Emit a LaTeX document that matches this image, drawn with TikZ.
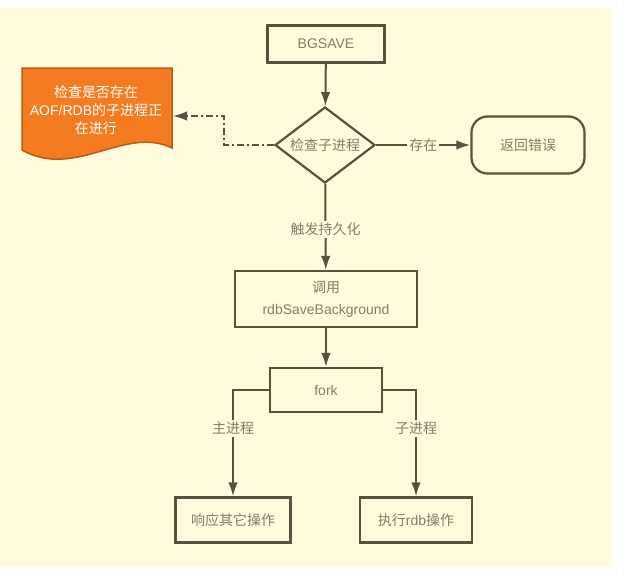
\documentclass[tikz,border=0pt]{standalone}
\usepackage{fontspec}
\setmainfont{Liberation Sans}
\newfontfamily\cjk{Noto Sans CJK SC}
\usetikzlibrary{shapes.geometric,arrows.meta}
\definecolor{bg}{HTML}{FFFCDD}
\definecolor{ln}{HTML}{5A5140}
\definecolor{tx}{HTML}{857C6C}
\definecolor{org}{HTML}{F57B20}
\definecolor{orgd}{HTML}{B85A18}
\tikzset{
  base/.style={text=tx, font=\fontsize{14}{17}\selectfont, inner sep=0pt, align=center},
  box/.style={base, draw=ln, line width=2.2pt, fill=bg},
  lbl/.style={base, fill=bg, inner sep=2pt},
  arr/.style={draw=ln, line width=2pt, -{Latex[length=14pt,width=9.5pt]}},
  dd/.style={draw=ln, line width=2pt, dash pattern=on 7pt off 3pt on 2pt off 3pt, -{Latex[length=14pt,width=9.5pt]}},
}
\begin{document}
\begin{tikzpicture}[x=1pt,y=-1pt]
\useasboundingbox (0,0) rectangle (625,579);
\fill[white] (0,0) rectangle (625,579);
\fill[bg] (0,8) rectangle (612,567);

\node[box, minimum width=117pt, minimum height=37pt] (bg) at (326,44) {BGSAVE};
\node[box, shape=diamond, aspect=1.3, minimum width=100pt, minimum height=76pt] (chk) at (325,145) {\cjk 检查子进程};
\node[box, rounded corners=16pt, minimum width=113pt, minimum height=57pt] (err) at (528,145) {\cjk 返回错误};
\node[box, minimum width=182pt, minimum height=56pt] (rdb) at (326,299) {{\cjk 调用}\\[5pt]rdbSaveBackground};
\node[box, minimum width=112pt, minimum height=44pt] (fork) at (326,390) {fork};
\node[box, minimum width=115pt, minimum height=45pt] (resp) at (233,520) {\cjk 响应其它操作};
\node[box, minimum width=112pt, minimum height=45pt] (exec) at (416,520) {{\cjk 执行}rdb{\cjk 操作}};

% document shape
\draw[draw=orgd, fill=org, line width=1.5pt] (22,68) -- (172,68) -- (172,148)
  .. controls (125,125) and (75,180) .. (22,150) -- cycle;
\node[base, text=white, font=\fontsize{14}{18}\selectfont] (doc) at (96,110)
  {{\cjk 检查是否存在}\\AOF/RDB{\cjk 的子进程正}\\{\cjk 在进行}};
\coordinate (docin) at (173,116);
\coordinate (bend) at (224,116);

\draw[arr] (bg) -- (chk);
\draw[arr] (chk) -- node[lbl]{\cjk 存在} (err);
\draw[arr] (chk) -- node[lbl, pos=0.53]{\cjk 触发持久化} (rdb);
\draw[arr] (rdb) -- (fork);
\draw[arr] (fork.west) -| node[lbl, pos=0.68]{\cjk 主进程} (resp.north);
\draw[arr] (fork.east) -| node[lbl, pos=0.68]{\cjk 子进程} (exec.north);
\draw[dd] (chk.west) -| (bend) -- (docin);
\end{tikzpicture}
\end{document}
